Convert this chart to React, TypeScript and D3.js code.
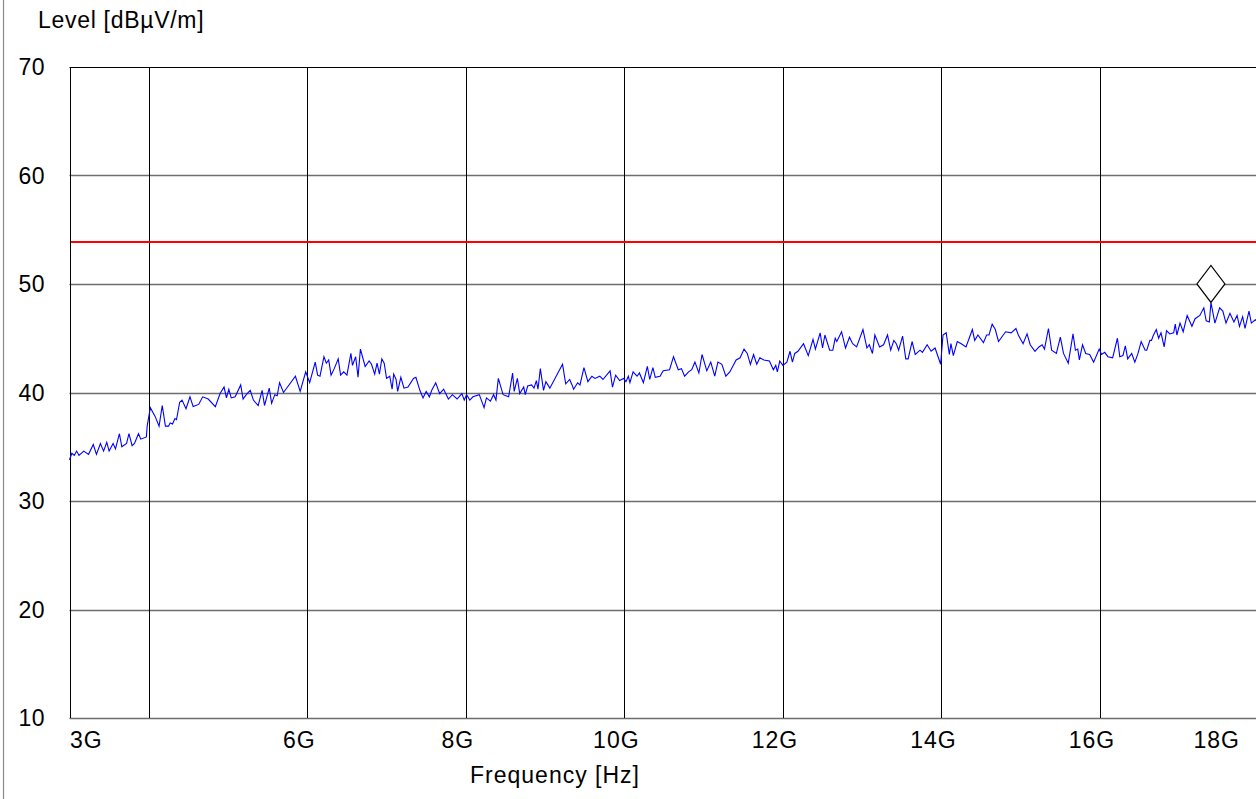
import React from "react";
import * as d3 from "d3";

// Measured sweep (frequency in GHz, level in dBµV/m)
const freqGHz: number[] = [
  3.00, 3.03, 3.06, 3.09, 3.12, 3.18, 3.24, 3.30, 3.34, 3.39, 3.43, 3.47, 3.50, 3.55, 3.58, 3.63, 3.66, 3.72, 3.75, 3.79,
  3.82, 3.87, 3.90, 3.97, 3.98, 4.02, 4.08, 4.13, 4.17, 4.21, 4.25, 4.27, 4.30, 4.33, 4.35, 4.39, 4.42, 4.47, 4.52, 4.56,
  4.63, 4.68, 4.75, 4.84, 4.90, 4.95, 4.98, 5.01, 5.04, 5.09, 5.16, 5.19, 5.23, 5.28, 5.32, 5.38,
  5.43, 5.46, 5.52, 5.55, 5.59, 5.62, 5.65, 5.70, 5.85, 5.91, 5.98, 6.03, 6.10, 6.13, 6.16, 6.21, 6.24, 6.27, 6.30, 6.34,
  6.39, 6.42, 6.46, 6.50, 6.55, 6.57, 6.61, 6.64, 6.67, 6.73, 6.78, 6.81, 6.85, 6.88, 6.91, 6.94, 6.97, 7.00, 7.04, 7.07,
  7.09, 7.12, 7.14, 7.18, 7.22, 7.27, 7.34, 7.37, 7.42, 7.46, 7.50, 7.54, 7.57, 7.62, 7.67, 7.72, 7.78,
  7.83, 7.89, 7.95, 7.98, 8.01, 8.05, 8.09, 8.17, 8.23, 8.26, 8.31, 8.35, 8.38, 8.41, 8.47, 8.54, 8.59, 8.61, 8.65, 8.68,
  8.73, 8.75, 8.78, 8.83, 8.86, 8.89, 8.91, 8.94, 8.98, 9.01, 9.06, 9.22, 9.26, 9.31, 9.34, 9.36, 9.41, 9.44, 9.49, 9.54,
  9.59, 9.63, 9.69, 9.73, 9.82, 9.85, 9.89, 9.94, 9.99, 10.02, 10.05, 10.07, 10.11, 10.16, 10.19,
  10.24, 10.29, 10.32, 10.36, 10.39, 10.45, 10.49, 10.57, 10.62, 10.68, 10.72, 10.76, 10.81, 10.85, 10.89, 10.94, 10.98,
  11.04, 11.09, 11.14, 11.18, 11.23, 11.28, 11.33, 11.41, 11.46, 11.51, 11.55, 11.59, 11.63, 11.67, 11.71, 11.76, 11.83,
  11.88, 11.91, 11.93, 11.96, 12.00, 12.05, 12.09, 12.12, 12.15, 12.19, 12.26, 12.32, 12.38, 12.41, 12.47, 12.50, 12.53,
  12.59, 12.63, 12.66, 12.68, 12.74, 12.79, 12.84, 12.88, 12.93, 13.01, 13.06, 13.09, 13.13, 13.16, 13.22, 13.27, 13.32,
  13.36, 13.40, 13.43, 13.46, 13.51, 13.55, 13.58, 13.63, 13.67, 13.73, 13.76, 13.82, 13.87, 13.92, 13.99, 14.02, 14.06,
  14.10, 14.12, 14.15, 14.20, 14.25, 14.31, 14.35, 14.39, 14.42, 14.46, 14.53, 14.57, 14.60, 14.64, 14.68, 14.72, 14.81, 14.88,
  14.94, 14.97, 15.03, 15.08, 15.12, 15.18, 15.23, 15.27, 15.30, 15.35, 15.39, 15.45, 15.50, 15.54, 15.60, 15.66, 15.69,
  15.72, 15.74, 15.78, 15.82, 15.87, 15.92, 15.99, 16.02, 16.06, 16.10, 16.16, 16.22, 16.25, 16.29, 16.32, 16.35, 16.40,
  16.44, 16.48, 16.52, 16.57, 16.59, 16.63, 16.65, 16.67, 16.71, 16.74, 16.77, 16.81, 16.84, 16.88, 16.93, 16.95, 16.97,
  17.01, 17.05, 17.10, 17.16, 17.20, 17.26, 17.31, 17.34, 17.38, 17.40, 17.45, 17.51, 17.55, 17.59, 17.64, 17.69, 17.73,
  17.76, 17.80, 17.83, 17.88, 17.91, 17.96, 18.00,
];

const levelDb: number[] = [
  33.8, 34.4, 34.2, 34.6, 34.2, 34.6, 34.3, 35.2, 34.3, 35.3, 34.6, 35.4, 34.6, 35.3, 34.8, 36.2, 35.0, 35.3, 36.2, 35.1,
  35.3, 36.2, 35.7, 35.9, 36.9, 38.6, 37.8, 36.9, 38.8, 36.9, 36.9, 37.2, 37.1, 37.6, 37.5, 39.1, 39.3, 38.5, 39.6, 38.7,
  38.9, 39.6, 39.4, 38.7, 39.9, 40.5, 39.5, 40.3, 39.5, 39.6, 40.7, 39.4, 39.8, 40.2, 39.3, 38.8,
  40.2, 38.8, 40.4, 39.0, 39.8, 39.7, 40.9, 40.0, 41.5, 40.1, 41.9, 40.9, 42.8, 41.6, 41.5, 43.3, 42.7, 43.0, 41.6, 42.2,
  43.1, 41.6, 41.9, 41.6, 43.6, 42.5, 43.3, 41.4, 44.0, 42.4, 42.9, 42.6, 41.7, 42.7, 41.7, 43.1, 42.7, 41.3, 41.5, 40.3,
  41.7, 41.2, 40.1, 41.4, 40.4, 40.5, 41.3, 41.4, 40.2, 39.5, 40.1, 39.6, 40.2, 40.9, 39.9, 40.3, 39.4,
  39.8, 39.4, 39.9, 39.3, 39.8, 39.3, 39.6, 39.8, 38.6, 39.5, 39.2, 39.8, 39.3, 41.3, 39.8, 39.6, 41.8, 40.1, 41.3, 39.9,
  40.5, 39.8, 40.6, 40.7, 40.4, 41.1, 40.3, 42.2, 40.2, 41.0, 40.4, 42.6, 40.8, 41.2, 40.7, 40.3, 40.9, 40.7, 42.3, 41.0,
  41.5, 41.3, 41.5, 41.2, 42.0, 40.5, 41.6, 41.1, 41.3, 41.0, 41.5, 40.9, 41.9, 41.5, 41.8,
  40.9, 42.4, 41.2, 42.3, 41.4, 41.5, 42.0, 42.1, 43.3, 42.1, 42.2, 41.5, 41.9, 42.1, 42.8, 41.8, 43.5,
  42.0, 42.8, 41.5, 42.8, 42.6, 41.5, 41.9, 43.0, 43.2, 44.0, 43.6, 42.6, 43.5, 42.6, 43.2, 43.0, 42.9,
  42.1, 42.5, 41.9, 42.9, 42.5, 42.8, 43.8, 42.8, 43.6, 43.8, 44.5, 43.4, 44.9, 44.0, 45.5, 44.1, 45.3,
  43.9, 43.9, 45.0, 44.7, 45.6, 44.1, 45.1, 44.5, 44.2, 45.8, 44.1, 44.4, 43.6, 45.3, 44.2, 44.4, 45.3,
  43.9, 44.8, 44.5, 43.9, 45.2, 43.1, 43.1, 44.7, 43.5, 43.9, 43.7, 44.4, 43.8, 44.1, 42.6, 45.3, 45.5,
  43.5, 44.5, 43.4, 44.7, 44.5, 44.2, 45.0, 45.8, 44.8, 45.3, 44.6, 45.3, 45.3, 46.3, 45.8, 44.7, 45.6, 45.5,
  45.9, 45.3, 44.5, 45.4, 44.4, 43.8, 44.2, 44.4, 44.0, 45.9, 43.9, 43.6, 45.1, 43.6, 42.7, 45.4, 43.9,
  44.0, 43.0, 44.4, 43.6, 43.5, 42.8, 44.0, 43.5, 43.7, 43.3, 43.2, 45.0, 43.3, 43.4, 44.3, 43.1, 43.6,
  42.8, 43.6, 44.7, 43.9, 43.9, 44.8, 44.8, 45.2, 45.8, 45.0, 45.5, 44.2, 45.7, 45.4, 45.5, 46.3, 45.3,
  46.4, 45.6, 47.1, 46.1, 46.8, 47.1, 47.8, 46.6, 46.5, 48.3, 46.4, 47.8, 47.5, 46.4, 47.3, 46.5, 47.1,
  46.1, 47.0, 45.9, 47.5, 46.4, 46.7, 46.5,
];

const limitDb = 54;
const yTicks: number[] = [10, 20, 30, 40, 50, 60, 70];
const xGrid: number[] = [4, 6, 8, 10, 12, 14, 16];
const xLabels: { f: number; text: string }[] = [
  { f: 3, text: "3G" },
  { f: 6, text: "6G" },
  { f: 8, text: "8G" },
  { f: 10, text: "10G" },
  { f: 12, text: "12G" },
  { f: 14, text: "14G" },
  { f: 16, text: "16G" },
  { f: 18, text: "18G" },
];
const yTitle = "Level [dBµV/m]";
const xTitle = "Frequency [Hz]";

const W = 1256;
const H = 799;
const FONT = "'Liberation Sans', Arial, Helvetica, sans-serif";

export default function App() {
  const x = d3.scaleLinear().domain([3, 18]).range([69.5, 1258.5]);
  const y = d3.scaleLinear().domain([10, 70]).range([718, 67]);
  const pts = freqGHz.map((f, i) => [f, levelDb[i]] as [number, number]);
  const line = d3
    .line<[number, number]>()
    .x((d) => x(d[0]))
    .y((d) => y(d[1]));

  // peak marker
  let pk = 0;
  levelDb.forEach((v, i) => {
    if (v > levelDb[pk]) pk = i;
  });
  const mx = x(freqGHz[pk]);
  const my = y(levelDb[pk]);
  const dw = 14;
  const dh = 18.5;
  const diamond = `M${mx},${my} L${mx + dw},${my - dh} L${mx},${my - 2 * dh} L${mx - dw},${my - dh} Z`;

  const x0 = x(3);
  const x1 = x(18);
  const limitY = Math.round(y(limitDb));

  return (
    <div style={{ position: "absolute", left: 0, top: 0, width: W, height: H, background: "#fff" }}>
      <svg width={W} height={H} style={{ display: "block" }} fontFamily={FONT}>
        <rect x={0} y={0} width={W} height={H} fill="#fff" />
        <line x1={3.5} y1={0} x2={3.5} y2={H} stroke="#8a8a8a" strokeWidth={1.2} />

        {/* horizontal grid */}
        {yTicks.map((t) => (
          <line
            key={"h" + t}
            x1={x0}
            x2={x1}
            y1={Math.round(y(t)) + 0.5}
            y2={Math.round(y(t)) + 0.5}
            stroke={t === 70 ? "#000" : "#6e6e6e"}
            strokeWidth={t === 70 ? 1 : 1.6}
          />
        ))}
        {/* vertical grid */}
        {xGrid.map((f) => (
          <line
            key={"v" + f}
            x1={Math.round(x(f)) + 0.5}
            x2={Math.round(x(f)) + 0.5}
            y1={y(70)}
            y2={y(10)}
            stroke="#000"
            strokeWidth={1}
          />
        ))}
        <line x1={70.5} x2={70.5} y1={y(70)} y2={y(10)} stroke="#000" strokeWidth={1} />

        {/* limit line */}
        <rect x={x0 + 1} y={limitY - 0.5} width={x1 - x0} height={2} fill="#ff0000" shapeRendering="crispEdges" />

        {/* trace */}
        <path d={line(pts) || ""} fill="none" stroke="#0000ff" strokeWidth={1.1} />

        {/* marker */}
        <path d={diamond} fill="#fff" stroke="#000" strokeWidth={1.2} />

        {/* y tick labels */}
        {yTicks.map((t) => (
          <text key={"yl" + t} x={45} y={y(t) + 8} textAnchor="end" fontSize={23} letterSpacing={0.5} fill="#000">
            {t}
          </text>
        ))}

        {/* x tick labels */}
        {xLabels.map((l) => {
          let anchor: "start" | "middle" | "end" = "middle";
          let px = x(l.f) - 8;
          if (l.f === 3) {
            anchor = "start";
            px = x0 + 0.5;
          } else if (l.f === 18) {
            anchor = "end";
            px = 1240;
          }
          return (
            <text key={"xl" + l.f} x={px} y={748} textAnchor={anchor} fontSize={23} letterSpacing={1} fill="#000">
              {l.text}
            </text>
          );
        })}

        <text x={38} y={27.5} fontSize={23} letterSpacing={0.7} fill="#000">
          {yTitle}
        </text>
        <text x={555} y={783} textAnchor="middle" fontSize={23} letterSpacing={1} fill="#000">
          {xTitle}
        </text>
      </svg>
    </div>
  );
}
